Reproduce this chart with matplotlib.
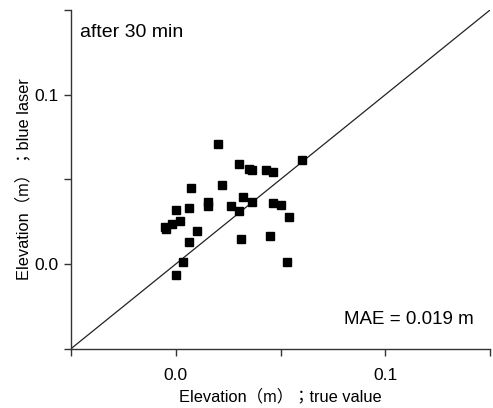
import numpy as np
import matplotlib
matplotlib.use("Agg")
import matplotlib.pyplot as plt
from matplotlib.ticker import FixedLocator, FuncFormatter

plt.rcParams['font.family'] = ['Liberation Sans', 'Noto Sans CJK JP', 'DejaVu Sans']

# true elevation vs. blue-laser elevation (m)
true_val = [0.0201, 0.0302, 0.0351, 0.0363, 0.0430, 0.0462, 0.0602, 0.0071,
            0.0222, 0.0322, 0.0362, 0.0152, 0.0152, 0.0262, 0.0302, 0.0462,
            0.0502, 0.0541, 0.0003, 0.0063, 0.0022, -0.0018, -0.0051, -0.0048,
            0.0103, 0.0063, 0.0313, 0.0451, 0.0033, 0.0530, 0.0003]
laser_val = [0.0710, 0.0592, 0.0560, 0.0556, 0.0556, 0.0546, 0.0615, 0.0448,
             0.0469, 0.0398, 0.0365, 0.0369, 0.0343, 0.0345, 0.0312, 0.0363,
             0.0349, 0.0278, 0.0321, 0.0333, 0.0256, 0.0238, 0.0221, 0.0205,
             0.0195, 0.0132, 0.0148, 0.0166, 0.0012, 0.0012, -0.0065]

lims = [-0.05, 0.15]
ticks = [-0.05, 0.0, 0.05, 0.1, 0.15]
labelled = {0.0: "0.0", 0.1: "0.1"}

fig = plt.figure(figsize=(4.93, 4.08), dpi=100)
ax = fig.add_axes([0.144, 0.1453, 0.850, 0.8302])

ax.plot(lims, lims, color="#222222", lw=0.9)
ax.plot(true_val, laser_val, "s", color="black", ms=5.8, mec="black")

ax.set_xlim(lims)
ax.set_ylim(lims)
for s in ("top", "right"):
    ax.spines[s].set_visible(False)
for s in ("left", "bottom"):
    ax.spines[s].set_linewidth(1.0)
    ax.spines[s].set_color("#333333")

fmt = FuncFormatter(lambda v, p: labelled.get(round(v, 2), ""))
for axis in (ax.xaxis, ax.yaxis):
    axis.set_major_locator(FixedLocator(ticks))
    axis.set_major_formatter(fmt)
ax.tick_params(direction="out", length=5, width=1.0, color="#333333",
               labelsize=12.5)
ax.tick_params(axis="x", pad=9)
ax.tick_params(axis="y", pad=4)

ax.set_xlabel("Elevation（m）；true value", fontsize=11.8, labelpad=4)
ax.set_ylabel("Elevation（m）；blue laser", fontsize=11.8, labelpad=2)

ax.text(0.021, 0.935, "after 30 min", transform=ax.transAxes,
        fontsize=14, va="center", ha="left")
ax.text(0.96, 0.085, "MAE = 0.019 m", transform=ax.transAxes,
        fontsize=13.5, va="center", ha="right")

fig.savefig("out.png", dpi=100)
